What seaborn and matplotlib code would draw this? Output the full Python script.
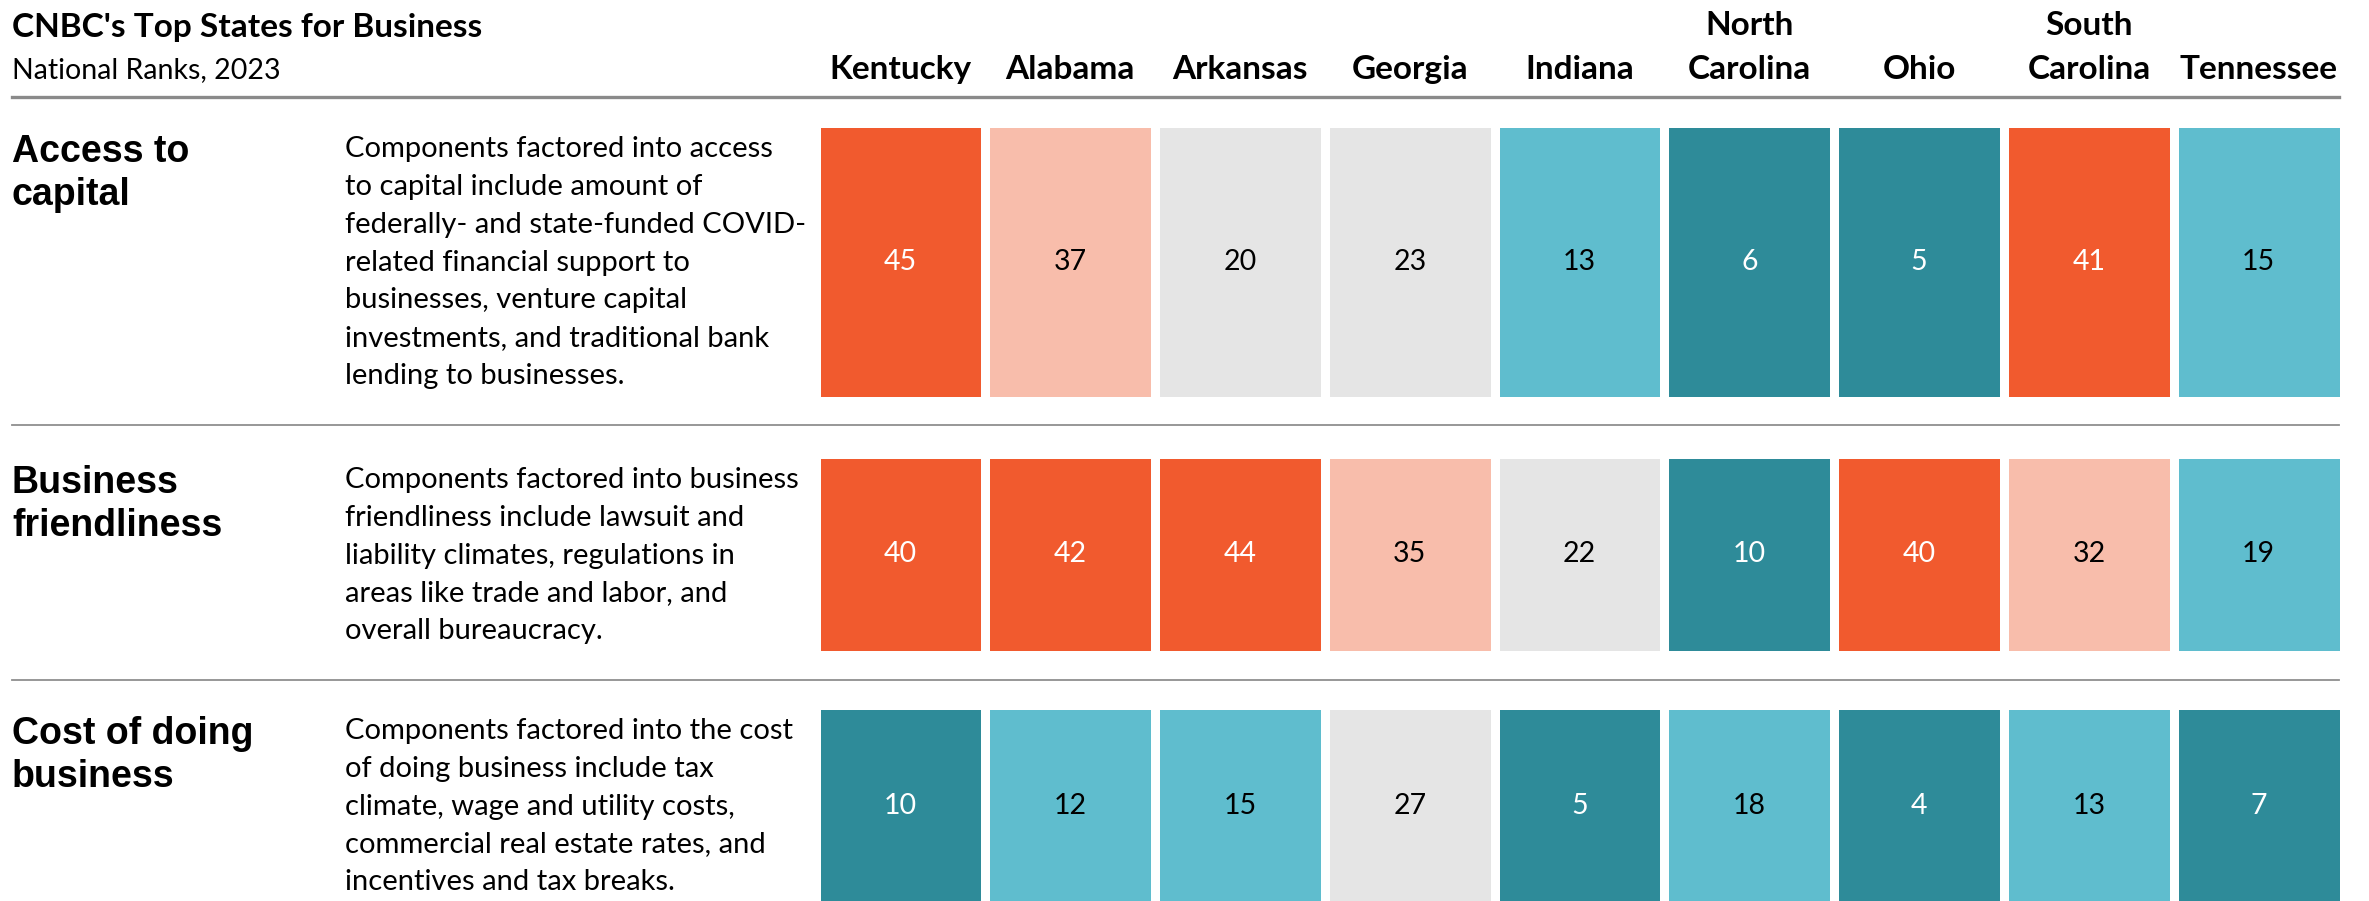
import pandas as pd
import seaborn as sns
import matplotlib.pyplot as plt
from matplotlib.colors import ListedColormap, BoundaryNorm

# Data
states = ["Kentucky", "Alabama", "Arkansas", "Georgia", "Indiana",
          "North\nCarolina", "Ohio", "South\nCarolina", "Tennessee"]
categories = ["Access to\ncapital", "Business\nfriendliness", "Cost of doing\nbusiness"]
descriptions = [
    "Components factored into access\nto capital include amount of\n"
    "federally- and state-funded COVID-\nrelated financial support to\n"
    "businesses, venture capital\ninvestments, and traditional bank\n"
    "lending to businesses.",
    "Components factored into business\nfriendliness include lawsuit and\n"
    "liability climates, regulations in\nareas like trade and labor, and\n"
    "overall bureaucracy.",
    "Components factored into the cost\nof doing business include tax\n"
    "climate, wage and utility costs,\ncommercial real estate rates, and\n"
    "incentives and tax breaks.",
]
access_to_capital = [45, 37, 20, 23, 13, 6, 5, 41, 15]
business_friendliness = [40, 42, 44, 35, 22, 10, 40, 32, 19]
cost_of_doing_business = [10, 12, 15, 27, 5, 18, 4, 13, 7]

rank_bins = [0.5, 10.5, 19.5, 29.5, 39.5, 50.5]
bin_colors = ["#2E8B99", "#5FBDCE", "#E5E5E5", "#F8BDAB", "#F15A2E"]

df = pd.DataFrame([access_to_capital, business_friendliness, cost_of_doing_business],
                  index=categories, columns=states)

cmap = ListedColormap(bin_colors)
norm = BoundaryNorm(rank_bins, cmap.N)

W, H = 2369, 901
fig = plt.figure(figsize=(W / 100, H / 100), dpi=100)

# row boxes in pixels (top, bottom)
rows_px = [(122.6, 401.4), (453.6, 655.4), (704.6, 906.4)]
left_px, width_px = 815.6, 1528

for i, (top, bot) in enumerate(rows_px):
    ax = fig.add_axes([left_px / W, 1 - bot / H, width_px / W, (bot - top) / H])
    sns.heatmap(df.iloc[[i]], ax=ax, cmap=cmap, norm=norm, annot=True, fmt="d",
                cbar=False, linewidths=6.3, linecolor="white",
                xticklabels=states if i == 0 else False, yticklabels=False,
                annot_kws={"fontsize": 20.5, "family": "Lato"})
    for t in ax.texts:
        if t.get_color() != "w":
            t.set_color("black")
    if i == 0:
        ax.xaxis.tick_top()
        ax.tick_params(axis="x", length=0, pad=28, labelsize=24)
        for lab in ax.get_xticklabels():
            lab.set_rotation(0)
            lab.set_fontweight("bold")
            lab.set_family("Lato")
            lab.set_linespacing(1.62)
    ax.set_xlabel("")
    ax.set_ylabel("")

    # row label and description
    fig.text(12 / W, 1 - (top + 11) / H, categories[i], ha="left", va="top",
             fontsize=27, fontweight="bold", family="Liberation Sans", linespacing=1.25)
    fig.text(345 / W, 1 - (top + 13) / H, descriptions[i], ha="left", va="top",
             fontsize=21, family="Lato", linespacing=1.57)

# title and subtitle
fig.text(12 / W, 1 - 28 / H, "CNBC's Top States for Business", ha="left", va="center",
         fontsize=24, fontweight="bold", family="Lato")
fig.text(12 / W, 1 - 70 / H, "National Ranks, 2023", ha="left", va="center",
         fontsize=20.5, family="Lato")

# separator lines
fig.add_artist(plt.Line2D([12 / W, 2339 / W], [1 - 97 / H] * 2, transform=fig.transFigure,
                          color="#8A8A8A", lw=2.4))
for y in [425, 680]:
    fig.add_artist(plt.Line2D([12 / W, 2339 / W], [1 - y / H] * 2, transform=fig.transFigure,
                              color="#8F8F8F", lw=1.3))

fig.savefig("out.png", dpi=100)
